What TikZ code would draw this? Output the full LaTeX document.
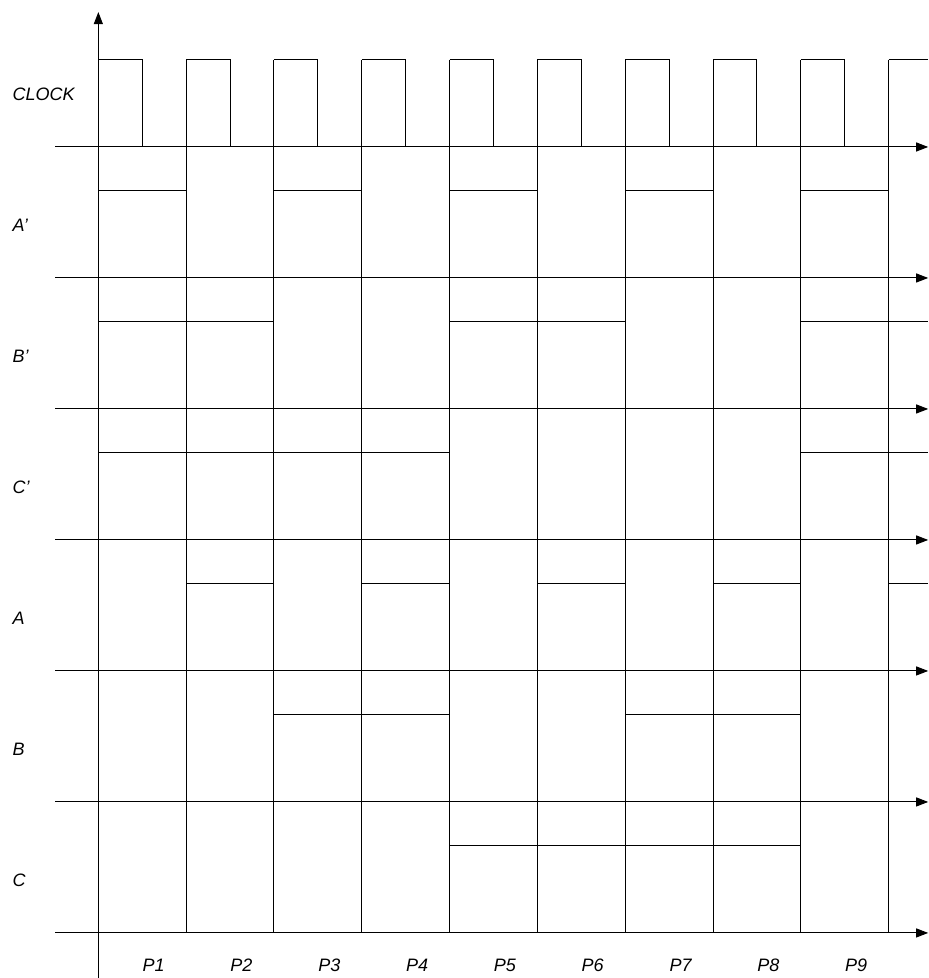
\documentclass[tikz,border=0pt]{standalone}
\usepackage{fontspec}
\setmainfont{Liberation Sans}
\usetikzlibrary{arrows.meta}

\begin{document}
\begin{tikzpicture}[x=1.5434cm, y=-2.3023cm, line width=0.5pt,
  lbl/.style={right, inner sep=0pt, font=\fontsize{9}{11}\selectfont\itshape},
  per/.style={inner sep=0pt, font=\fontsize{9}{11}\selectfont\itshape},
  axis/.style={-{Triangle[length=6pt,width=4.5pt]}}]
\useasboundingbox (-1.12,-1.122) rectangle (9.451,6.344);

% Eje vertical
\coordinate (y0) at (0,6.344);
\coordinate (y1) at (0,-1.03);
\draw[axis] (y0) -- (y1);

% Ejes horizontales (uno por senal)
\foreach \k in {0,...,6} {
  \coordinate (h\k a) at (-0.491,\k);
  \coordinate (h\k b) at (9.45,\k);
  \draw[axis] (h\k a) -- (h\k b);
}

% Divisiones de periodos
\foreach \i in {1,...,9} \draw (\i,-0.665) -- (\i,6);

% CLOCK
\foreach \i in {0,...,8} \draw (\i,-0.665) -- (\i+0.5,-0.665) -- (\i+0.5,0);
\draw (9,-0.665) -- (9.45,-0.665);

% A'
\foreach \i in {0,2,4,6,8} \draw (\i,0.335) -- (\i+1,0.335);

% B'
\foreach \i in {0,1,4,5} \draw (\i,1.335) -- (\i+1,1.335);
\draw (8,1.335) -- (9.45,1.335);

% C'
\foreach \i in {0,...,3} \draw (\i,2.335) -- (\i+1,2.335);
\draw (8,2.335) -- (9.45,2.335);

% A
\foreach \i in {1,3,5,7} \draw (\i,3.335) -- (\i+1,3.335);
\draw (9,3.335) -- (9.45,3.335);

% B
\foreach \i in {2,3,6,7} \draw (\i,4.335) -- (\i+1,4.335);

% C
\foreach \i in {4,...,7} \draw (\i,5.335) -- (\i+1,5.335);

% Etiquetas de senales
\foreach \n/\t [count=\k from 0] in {lclock/CLOCK, lAp/A', lBp/B', lCp/C', lA/A, lB/B, lC/C} {
  \node[lbl] (\n) at (-0.983,\k-0.4) {\t};
}

% Etiquetas de periodos
\foreach \i in {1,...,9} {
  \node[per] (p\i) at (\i-0.37,6.244) {P\i};
}

\end{tikzpicture}
\end{document}
